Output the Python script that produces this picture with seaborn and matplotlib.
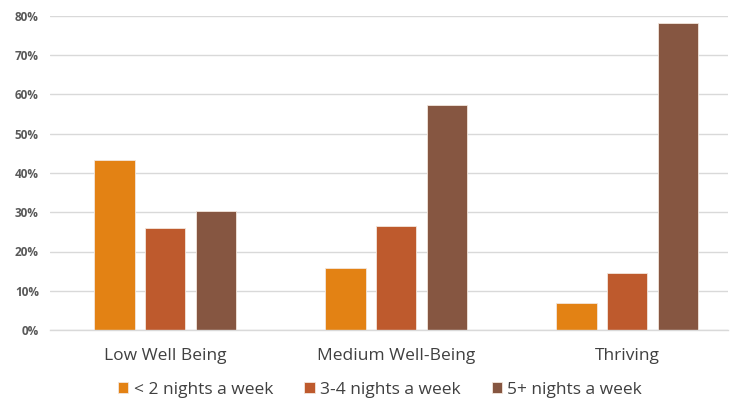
import matplotlib
matplotlib.use("Agg")
import matplotlib.pyplot as plt
import seaborn as sns
import pandas as pd
from matplotlib.ticker import PercentFormatter

categories = ["Low Well Being", "Medium Well-Being", "Thriving"]
series = ["< 2 nights a week", "3-4 nights a week", "5+ nights a week"]
under_2 = [0.434, 0.158, 0.070]
three_four = [0.260, 0.265, 0.146]
five_plus = [0.304, 0.573, 0.782]
colors = ["#E38214", "#BE5A2D", "#865641"]

rows = []
for name, vals in zip(series, [under_2, three_four, five_plus]):
    for cat, v in zip(categories, vals):
        rows.append({"category": cat, "series": name, "value": v})
df = pd.DataFrame(rows)

sns.set_theme(style="white")
plt.rcParams["font.family"] = ["Open Sans", "DejaVu Sans"]

fig = plt.figure(figsize=(7.36, 4.0), dpi=100)
ax = fig.add_axes([50 / 736, 1 - 330 / 400, 678 / 736, (330 - 16) / 400])

sns.barplot(data=df, x="category", y="value", hue="series", order=categories,
            hue_order=series, palette=colors, width=0.66, gap=0.2,
            edgecolor="#f3e6dc", linewidth=0.6, saturation=1, ax=ax)

ax.set_ylim(0, 0.8)
ax.set_xlim(-0.498, 2.437)
ax.set_yticks([i / 10 for i in range(9)])
ax.yaxis.set_major_formatter(PercentFormatter(1.0, decimals=0))
ax.grid(axis="y", color="#d9d9d9", linewidth=1)
ax.set_axisbelow(True)
for s in ["top", "right", "left"]:
    ax.spines[s].set_visible(False)
ax.spines["bottom"].set_color("#d9d9d9")
ax.spines["bottom"].set_linewidth(1)
ax.tick_params(axis="both", length=0)
ax.tick_params(axis="y", labelsize=8.5, labelcolor="#595959", pad=8)
ax.tick_params(axis="x", labelsize=12.5, labelcolor="#404040", pad=13)
for lbl in ax.get_yticklabels():
    lbl.set_fontweight("bold")
ax.set_xlabel("")
ax.set_ylabel("")

handles, labels = ax.get_legend_handles_labels()
ax.get_legend().remove()
fig.legend(handles, labels, loc="center", bbox_to_anchor=(380 / 736, 1 - 390 / 400),
           ncol=3, frameon=False, fontsize=12.5, handlelength=0.6, handleheight=0.6,
           handletextpad=0.3, columnspacing=1.8, labelcolor="#404040")

fig.savefig("out.png", dpi=100)
